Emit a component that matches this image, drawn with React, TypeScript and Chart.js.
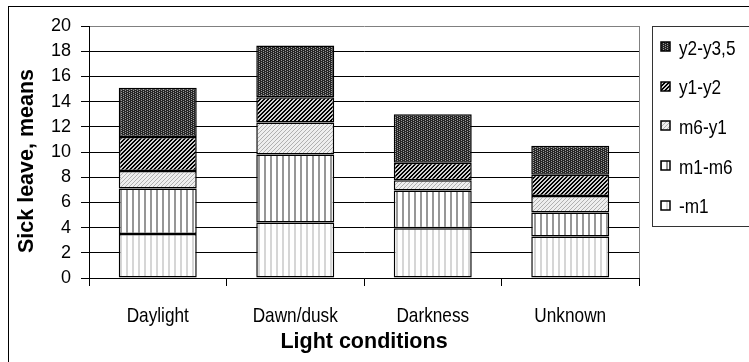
import React, { useEffect, useRef } from "react";
import { Chart, registerables } from "chart.js";

Chart.register(...registerables);

const categories = ["Daylight", "Dawn/dusk", "Darkness", "Unknown"];
const seriesNames = ["-m1", "m1-m6", "m6-y1", "y1-y2", "y2-y3,5"];
const valuesM1 = [3.5, 4.4, 3.95, 3.3];
const valuesM1M6 = [3.6, 5.4, 3.0, 1.9];
const valuesM6Y1 = [1.4, 2.55, 0.8, 1.3];
const valuesY1Y2 = [2.7, 2.0, 1.4, 1.7];
const valuesY2Y35 = [3.9, 4.1, 3.85, 2.3];
const yTicks = [0, 2, 4, 6, 8, 10, 12, 14, 16, 18, 20];

const SANS = '"Liberation Sans", Arial, sans-serif';
const NARROW_SCALE = 0.82;

type Px = [number, number, string];

function makeTile(
  ctx: CanvasRenderingContext2D,
  w: number,
  h: number,
  bg: string,
  px: Px[]
): CanvasPattern {
  const cv = document.createElement("canvas");
  cv.width = w;
  cv.height = h;
  const c = cv.getContext("2d")!;
  c.fillStyle = bg;
  c.fillRect(0, 0, w, h);
  for (const [x, y, col] of px) {
    c.fillStyle = col;
    c.fillRect(x, y, 1, 1);
  }
  return ctx.createPattern(cv, "repeat")!;
}

function narrowText(
  c: CanvasRenderingContext2D,
  text: string,
  x: number,
  y: number,
  align: CanvasTextAlign
) {
  c.save();
  c.translate(x, y);
  c.scale(NARROW_SCALE, 1);
  c.textAlign = align;
  c.textBaseline = "middle";
  c.fillText(text, 0, 0);
  c.restore();
}

export default function App() {
  const ref = useRef<HTMLCanvasElement | null>(null);

  useEffect(() => {
    const canvas = ref.current!;
    const ctx = canvas.getContext("2d")!;

    const pM1 = makeTile(ctx, 6, 1, "#ffffff", [
      [0, 0, "#d6d6d6"],
      [1, 0, "#d6d6d6"],
    ]);
    const pM1M6 = makeTile(ctx, 6, 1, "#ffffff", [
      [0, 0, "#979797"],
      [1, 0, "#979797"],
    ]);
    const pM6Y1 = makeTile(ctx, 4, 4, "#eeeeee", [
      [3, 0, "#b0b0b0"],
      [2, 1, "#b0b0b0"],
      [1, 2, "#b0b0b0"],
      [0, 3, "#b0b0b0"],
    ]);
    const pY1Y2 = makeTile(ctx, 4, 4, "#cfcfcf", [
      [3, 0, "#000"], [2, 0, "#000"],
      [2, 1, "#000"], [1, 1, "#000"],
      [1, 2, "#000"], [0, 2, "#000"],
      [0, 3, "#000"], [3, 3, "#000"],
    ]);
    const pY2 = makeTile(ctx, 4, 4, "#262626", [
      [1, 0, "#9a9a9a"],
      [1, 2, "#9a9a9a"],
      [3, 1, "#9a9a9a"],
      [3, 3, "#9a9a9a"],
    ]);

    const patterns = [pM1, pM1M6, pM6Y1, pY1Y2, pY2];
    const seriesValues = [valuesM1, valuesM1M6, valuesM6Y1, valuesY1Y2, valuesY2Y35];

    const framePlugin = {
      id: "frame",
      beforeDraw(chart: any) {
        const c = chart.ctx as CanvasRenderingContext2D;
        c.save();
        c.fillStyle = "#fff";
        c.fillRect(0, 0, chart.width, chart.height);
        c.strokeStyle = "#000";
        c.lineWidth = 1;
        c.strokeRect(8.5, 6.5, 800, 400);
        c.restore();
      },
      afterDraw(chart: any) {
        const c = chart.ctx as CanvasRenderingContext2D;
        const a = chart.chartArea;
        c.save();
        // plot border right
        c.strokeStyle = "#808080";
        c.lineWidth = 1;
        c.beginPath();
        c.moveTo(Math.round(a.right) + 0.5, a.top);
        c.lineTo(Math.round(a.right) + 0.5, a.bottom);
        c.stroke();

        // x category labels (narrow face), placed by the x scale
        c.fillStyle = "#000";
        c.font = `21px ${SANS}`;
        const xs = chart.scales.x;
        categories.forEach((lab, i) => {
          narrowText(c, lab, xs.getPixelForValue(i), 316.5, "center");
        });

        // y title
        c.font = `bold 21.5px ${SANS}`;
        c.textAlign = "center";
        c.textBaseline = "middle";
        c.translate(27, 161);
        c.rotate(-Math.PI / 2);
        c.fillText("Sick leave, means", 0, 0);
        c.restore();

        // legend
        c.save();
        c.strokeStyle = "#333";
        c.lineWidth = 1;
        c.strokeRect(652.5, 26.5, 140, 200);
        c.font = `21px ${SANS}`;
        const n = seriesNames.length;
        for (let i = 0; i < n; i++) {
          const idx = n - 1 - i;
          const cy = 48.8 + i * 39.7;
          const bx = 661;
          const by = Math.round(cy - 7);
          c.fillStyle = patterns[idx];
          c.fillRect(bx, by, 9, 9);
          c.strokeStyle = "#000";
          c.lineWidth = 1.5;
          c.strokeRect(bx, by, 9, 9);
          c.fillStyle = "#000";
          narrowText(c, seriesNames[idx], 679, cy, "left");
        }
        c.restore();
      },
    };

    const chart = new Chart(canvas, {
      type: "bar",
      data: {
        labels: categories,
        datasets: seriesNames.map((name, i) => ({
          label: name,
          data: seriesValues[i],
          backgroundColor: patterns[i],
          borderColor: "#000",
          borderWidth: 1.5,
          borderSkipped: false,
          categoryPercentage: 1,
          barPercentage: 0.567,
        })),
      },
      options: {
        responsive: false,
        animation: false,
        devicePixelRatio: 1,
        layout: { padding: { top: 26, right: 110, left: 0, bottom: 0 } },
        plugins: {
          legend: { display: false },
          tooltip: { enabled: false },
        },
        scales: {
          x: {
            stacked: true,
            offset: true,
            grid: {
              display: true,
              drawOnChartArea: false,
              drawTicks: true,
              tickLength: 8,
              color: "#000",
              offset: true,
            },
            border: { color: "#000", width: 1 },
            ticks: { display: false },
            title: {
              display: true,
              text: "Light conditions",
              color: "#000",
              font: { family: SANS, size: 21.5, weight: "bold" },
              padding: { top: 0, bottom: 6.6 },
            },
            afterFit: (s: any) => {
              s.height = 84;
            },
          },
          y: {
            stacked: true,
            min: 0,
            max: 20,
            afterBuildTicks: (s: any) => {
              s.ticks = yTicks.map((v) => ({ value: v }));
            },
            ticks: {
              color: "#000",
              font: { family: SANS, size: 18 },
              padding: 10,
            },
            grid: {
              color: (c: any) => (c.tick && c.tick.value === 20 ? "#808080" : "#000"),
              tickColor: "#000",
              tickLength: 8,
              lineWidth: 1,
            },
            border: { color: "#000", width: 1 },
            afterFit: (s: any) => {
              s.width = 89;
            },
          },
        },
      },
      plugins: [framePlugin],
    } as any);

    return () => chart.destroy();
  }, []);

  return (
    <div style={{ position: "fixed", left: 0, top: 0, width: 749, height: 362, background: "#fff" }}>
      <canvas ref={ref} width={749} height={362} style={{ display: "block", width: 749, height: 362 }} />
    </div>
  );
}
